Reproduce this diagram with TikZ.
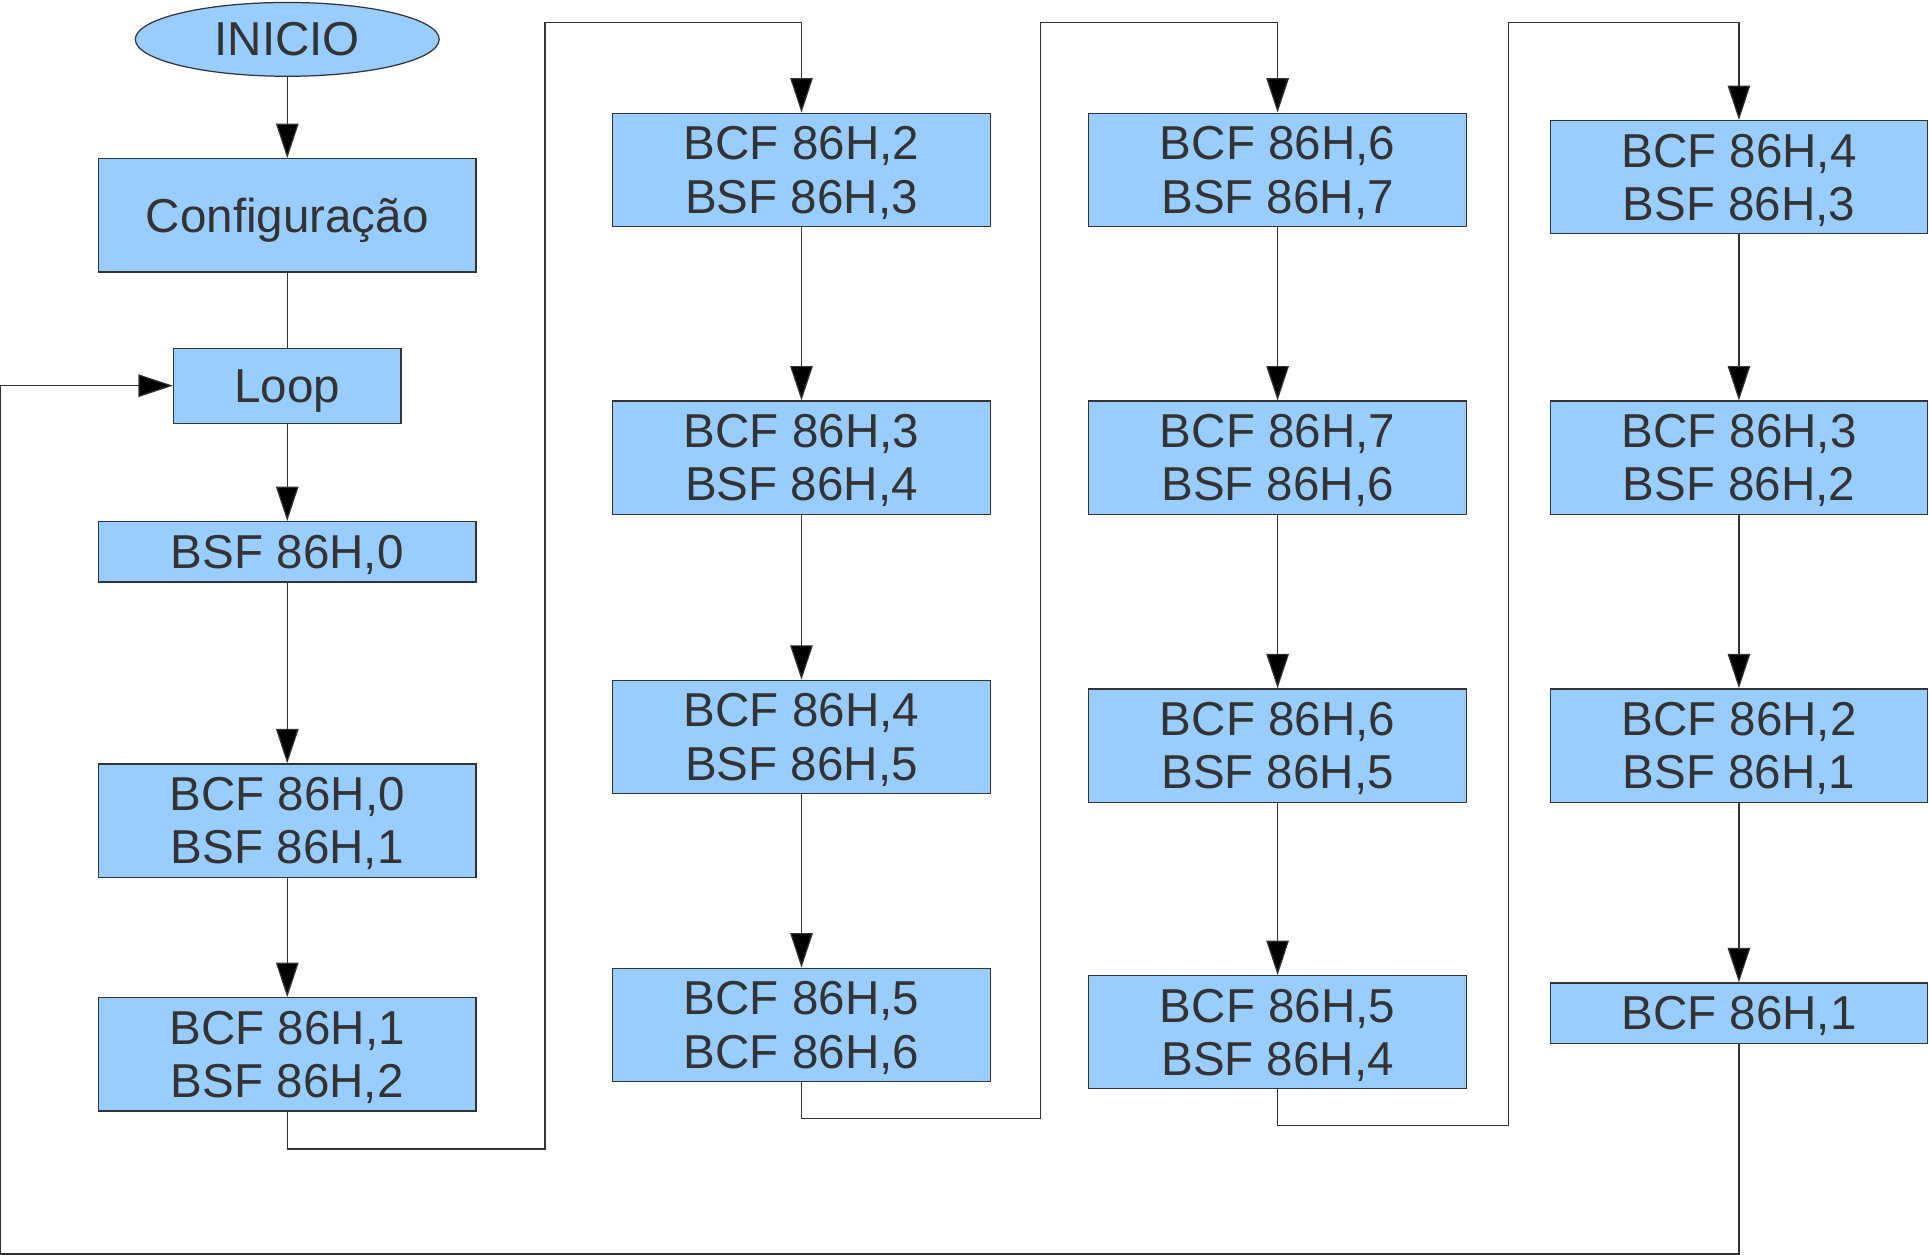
\documentclass[tikz,border=0pt]{standalone}
\usepackage{fontspec}
\setmainfont{Liberation Sans}
\usetikzlibrary{arrows.meta,shapes.geometric}
\definecolor{boxfill}{HTML}{99CCFF}
\definecolor{boxtext}{HTML}{333333}
\definecolor{edgegray}{HTML}{333333}
\tikzset{
  every node/.style={font=\fontsize{23.2pt}{26pt}\selectfont, text=boxtext, text depth=0pt},
  stepbox/.style={draw=edgegray, line width=0.6pt, fill=boxfill, rectangle,
    minimum width=184.2pt, minimum height=55.2pt, inner sep=0pt, align=center},
  onebox/.style={stepbox, minimum height=29.4pt},
  startnode/.style={draw=edgegray, line width=0.6pt, fill=boxfill, ellipse,
    minimum width=148.2pt, minimum height=36pt, inner sep=0pt},
  loopnode/.style={stepbox, minimum width=111pt, minimum height=36.6pt},
  link/.style={draw=edgegray, line width=0.6pt},
  flow/.style={link, -{Triangle[length=16.8pt, width=11pt, fill=black]}},
}
\begin{document}
\begin{tikzpicture}[x=0.6pt, y=-0.6pt]
\useasboundingbox (0,0) rectangle (1568,1020);

% first column
\node[startnode] (inicio) at (233.5,32) {INICIO};
\node[stepbox] (config) at (233.5,175) {Configuração};
\node[loopnode] (loop) at (233.5,313.5) {Loop};
\node[onebox] (a1) at (233.5,448.5) {BSF 86H,0};
\node[stepbox] (a2) at (233.5,667) {BCF 86H,0\\BSF 86H,1};
\node[stepbox] (a3) at (233.5,857) {BCF 86H,1\\BSF 86H,2};

% second column
\node[stepbox] (b1) at (651.5,138) {BCF 86H,2\\BSF 86H,3};
\node[stepbox] (b2) at (651.5,372) {BCF 86H,3\\BSF 86H,4};
\node[stepbox] (b3) at (651.5,599) {BCF 86H,4\\BSF 86H,5};
\node[stepbox] (b4) at (651.5,833) {BCF 86H,5\\BCF 86H,6};

% third column
\node[stepbox] (c1) at (1038.5,138) {BCF 86H,6\\BSF 86H,7};
\node[stepbox] (c2) at (1038.5,372) {BCF 86H,7\\BSF 86H,6};
\node[stepbox] (c3) at (1038.5,606) {BCF 86H,6\\BSF 86H,5};
\node[stepbox] (c4) at (1038.5,839) {BCF 86H,5\\BSF 86H,4};

% fourth column
\node[stepbox] (d1) at (1413.5,144) {BCF 86H,4\\BSF 86H,3};
\node[stepbox] (d2) at (1413.5,372) {BCF 86H,3\\BSF 86H,2};
\node[stepbox] (d3) at (1413.5,606) {BCF 86H,2\\BSF 86H,1};
\node[onebox] (d4) at (1413.5,823.5) {BCF 86H,1};

% corner points of the routed links
\coordinate (ab1) at (443,934);
\coordinate (ab2) at (443,18);
\coordinate (bc1) at (846,909);
\coordinate (bc2) at (846,18);
\coordinate (cd1) at (1226,915);
\coordinate (cd2) at (1226,18);
\coordinate (back1) at (1413.5,1019.3);
\coordinate (back2) at (0.6,1019.3);
\coordinate (back3) at (0.6,313.5);

% straight links
\draw[flow] (inicio) -- (config);
\draw[link] (config) -- (loop);
\draw[flow] (loop) -- (a1);
\draw[flow] (a1) -- (a2);
\draw[flow] (a2) -- (a3);
\draw[flow] (b1) -- (b2);
\draw[flow] (b2) -- (b3);
\draw[flow] (b3) -- (b4);
\draw[flow] (c1) -- (c2);
\draw[flow] (c2) -- (c3);
\draw[flow] (c3) -- (c4);
\draw[flow] (d1) -- (d2);
\draw[flow] (d2) -- (d3);
\draw[flow] (d3) -- (d4);

% links between columns
\draw[flow] (a3.south) |- (ab1) -- (ab2) -| (b1.north);
\draw[flow] (b4.south) |- (bc1) -- (bc2) -| (c1.north);
\draw[flow] (c4.south) |- (cd1) -- (cd2) -| (d1.north);

% return to the loop
\draw[flow] (d4.south) -- (back1) -- (back2) -- (back3) -- (loop.west);
\end{tikzpicture}
\end{document}
